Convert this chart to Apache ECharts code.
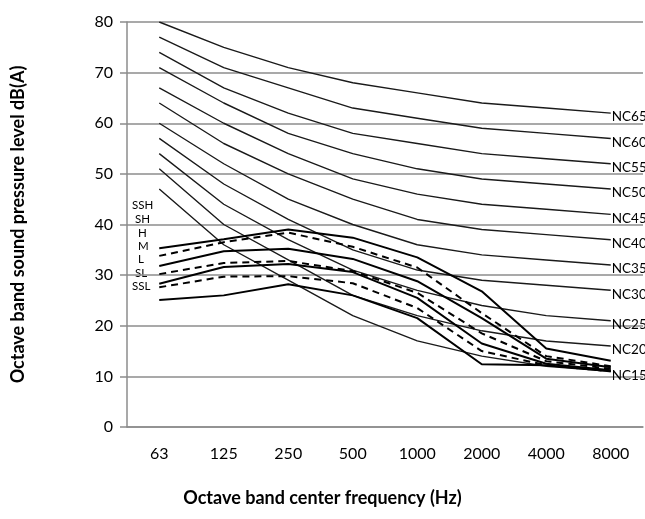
<!DOCTYPE html>
<html>
<head>
<meta charset="utf-8">
<script src="https://cdn.jsdelivr.net/npm/echarts@6/dist/echarts.min.js"></script>
<style>
  html, body { margin: 0; padding: 0; background: #fff; }
  #main { width: 645px; height: 519px; }
</style>
</head>
<body>
<div id="main"></div>
<script>
// octave bands
var freqs = ['63', '125', '250', '500', '1000', '2000', '4000', '8000'];

// NC reference curves
var ncNames = ['NC65', 'NC60', 'NC55', 'NC50', 'NC45', 'NC40', 'NC35', 'NC30', 'NC25', 'NC20', 'NC15'];
var nc65 = [80, 75, 71, 68, 66, 64, 63, 62];
var nc60 = [77, 71, 67, 63, 61, 59, 58, 57];
var nc55 = [74, 67, 62, 58, 56, 54, 53, 52];
var nc50 = [71, 64, 58, 54, 51, 49, 48, 47];
var nc45 = [67, 60, 54, 49, 46, 44, 43, 42];
var nc40 = [64, 56, 50, 45, 41, 39, 38, 37];
var nc35 = [60, 52, 45, 40, 36, 34, 33, 32];
var nc30 = [57, 48, 41, 35, 31, 29, 28, 27];
var nc25 = [54, 44, 37, 31, 27, 24, 22, 21];
var nc20 = [51, 40, 33, 26, 22, 19, 17, 16];
var nc15 = [47, 36, 29, 22, 17, 14, 12, 11];

// measured fan speeds
var speedNames = ['SSH', 'SH', 'H', 'M', 'L', 'SL', 'SSL'];
var ssh = [35.3, 37.1, 39.0, 37.4, 33.5, 26.8, 15.5, 13.1];
var sh  = [33.8, 36.5, 38.4, 35.6, 31.5, 22.5, 14.0, 12.0];
var h   = [31.8, 34.7, 35.2, 33.2, 28.8, 21.5, 13.5, 11.8];
var m   = [30.2, 32.4, 32.8, 30.8, 26.5, 18.5, 13.0, 11.5];
var l   = [28.3, 31.6, 32.2, 30.6, 25.5, 16.5, 12.5, 11.2];
var sl  = [27.6, 29.7, 29.8, 28.4, 23.5, 15.0, 12.2, 11.0];
var ssl = [25.1, 26.0, 28.2, 26.0, 21.5, 12.4, 12.2, 11.0];

var yTicks = [0, 10, 20, 30, 40, 50, 60, 70, 80];

function drawChart(){
    var myChart = echarts.init(document.getElementById('main'));
    var font = 'Lato, "Open Sans", sans-serif';

    var ncData = [nc65, nc60, nc55, nc50, nc45, nc40, nc35, nc30, nc25, nc20, nc15];
    var speedData = [ssh, sh, h, m, l, sl, ssl];
    var series = [];

    for (var i = 0; i < ncData.length; i++) {
        series.push({
            name: ncNames[i],
            type: 'line',
            data: ncData[i],
            symbol: 'none',
            silent: true,
            lineStyle: { color: '#1a1a1a', width: 1.4 },
            endLabel: {
                show: true,
                formatter: '{a}',
                color: '#000',
                fontFamily: font,
                fontSize: 13.5,
                distance: 1,
                offset: [0, 4]
            }
        });
    }
    for (var j = 0; j < speedData.length; j++) {
        series.push({
            name: speedNames[j],
            type: 'line',
            data: speedData[j],
            symbol: 'none',
            silent: true,
            lineStyle: {
                color: '#000',
                width: 2,
                type: (j % 2 == 1) ? [7, 5] : 'solid'
            }
        });
    }

    // stacked speed labels on the left
    var texts = [];
    var labelY = [206, 220, 234, 247, 260, 274, 287];
    for (var k = 0; k < speedNames.length; k++) {
        texts.push({
            type: 'text',
            left: 132 + (3 - speedNames[k].length) * 3,
            top: labelY[k] - 7,
            style: { text: speedNames[k], fill: '#000', font: '11.5px ' + font }
        });
    }

    var option = {
        animation: false,
        grid: { left: 127, right: 2, top: 22, bottom: 92 },
        xAxis: {
            type: 'category',
            data: freqs,
            boundaryGap: true,
            name: 'Octave band center frequency (Hz)',
            nameLocation: 'middle',
            nameGap: 62,
            nameTextStyle: {
                fontFamily: font, fontSize: 18, fontWeight: 'bold', color: '#000',
                padding: [0, 125, 0, 0]
            },
            axisLine: { lineStyle: { color: '#8c8c8c', width: 1.5 } },
            axisTick: { show: false },
            axisLabel: { fontFamily: font, fontSize: 16, color: '#000', margin: 19 }
        },
        yAxis: {
            type: 'value',
            min: yTicks[0],
            max: yTicks[yTicks.length - 1],
            interval: 10,
            name: 'Octave band sound pressure level dB(A)',
            nameLocation: 'middle',
            nameGap: 100,
            nameTextStyle: { fontFamily: font, fontSize: 18, fontWeight: 'bold', color: '#000' },
            axisLine: { show: true, lineStyle: { color: '#8c8c8c', width: 1.5 } },
            axisTick: { show: true, length: 7, lineStyle: { color: '#8c8c8c', width: 1.5 } },
            axisLabel: { fontFamily: font, fontSize: 16, color: '#000', margin: 14 },
            splitLine: { lineStyle: { color: '#8c8c8c', width: 1.5 } }
        },
        graphic: texts,
        series: series
    };

    myChart.setOption(option);
}

drawChart();
</script>
</body>
</html>
